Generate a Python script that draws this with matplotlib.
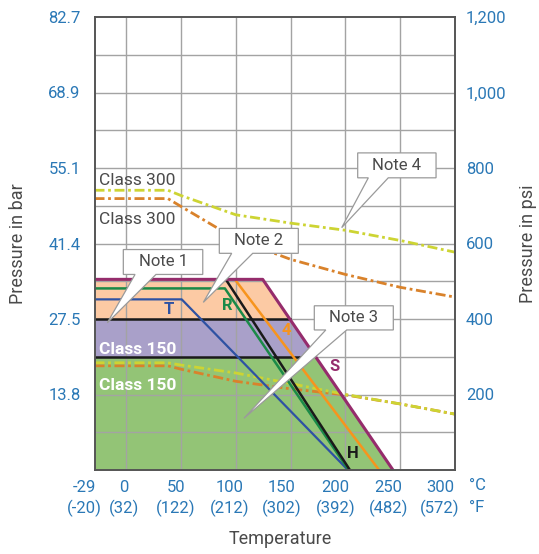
import numpy as np
import matplotlib
matplotlib.use('Agg')
import matplotlib.pyplot as plt
from matplotlib.patches import Polygon
from matplotlib.transforms import ScaledTranslation

plt.rcParams['font.family'] = ['Roboto', 'DejaVu Sans']

# temperature axis (deg C) with deg F in brackets
temp_ticks = [-29, 0, 50, 100, 150, 200, 250, 300]
temp_labels = ['-29\n(-20)', '0\n(32)', '50\n(122)', '100\n(212)', '150\n(302)',
               '200\n(392)', '250\n(482)', '300\n(572)']
# pressure axis, plotted in psi
psi_ticks = [200, 400, 600, 800, 1000, 1200]
psi_labels = ['200', '400', '600', '800', '1,000', '1,200']
bar_labels = ['13.8', '27.5', '41.4', '55.1', '68.9', '82.7']

# seat rating curves (temp C, psi)
S_t = [-29, 124.5, 243.4]
S_p = [505, 505, 0]
R_t = [-29, 90, 202.9]
R_p = [481, 481, 0]
T_t = [-29, 50.6, 202.3]
T_p = [452, 452, 0]
H_t = [91.7, 204.1]
H_p = [501, 0]
F_t = [100.1, 230.7]
F_p = [501, 0]

# body ratings, dash-dot
cls_t = [-29, 38, 50, 100, 150, 200, 250, 300]
c300_a = [741, 741, 727, 676, 654, 635, 608, 577]
c300_b = [719, 719, 698, 612, 558, 518, 484, 458]
c150_a = [284, 284, 278, 257, 229, 200, 175, 148]
c150_b = [276, 276, 267, 235, 215, 199, 175, 148]

# class 150 limits (psi)
lim_low = 300
lim_high = 400

blue = '#2a78b6'
grey_txt = '#4a4a4a'

fig = plt.figure(figsize=(5.39, 5.54), dpi=100)
ax = fig.add_axes([94.5 / 539, 1 - 470 / 554, 360.5 / 539, 453 / 554])
ax.set_xlim(-29, 300)
ax.set_ylim(0, 1200)


def s_edge(p):
    # sloped part of the S line, as temperature for a given pressure
    return np.interp(p, [S_p[2], S_p[1]], [S_t[2], S_t[1]])


for lo, hi, col in [(0, lim_low, '#93c476'), (lim_low, lim_high, '#a9a0c9'),
                    (lim_high, S_p[0], '#fccaa4')]:
    pp = np.array([lo, hi])
    ax.fill_betweenx(pp, -29, s_edge(pp), color=col, lw=0, zorder=1)

for x in range(0, 301, 50):
    ax.axvline(x, color='#a3a3a3', lw=1, zorder=1.5)
for y in range(100, 1200, 100):
    ax.axhline(y, color='#a3a3a3', lw=1, zorder=1.5)

dd = (0, (3.6, 1.3, 1, 1.3))
ax.plot(cls_t, c150_b, color='#d9822b', lw=2, ls=dd, zorder=2)
ax.plot(cls_t, c150_a, color='#cdd433', lw=2, ls=dd, zorder=2.1)
ax.plot(cls_t, c300_b, color='#d9822b', lw=2, ls=dd, zorder=2)
ax.plot(cls_t, c300_a, color='#cdd433', lw=2, ls=dd, zorder=2)

ax.plot([-29, s_edge(lim_high)], [lim_high, lim_high], color='#1a1a1a', lw=1.8, zorder=3)
ax.plot([-29, 161], [lim_low, lim_low], color='#1a1a1a', lw=1.8, zorder=3)

ax.plot(T_t, T_p, color='#2e52a3', lw=1.6, zorder=4)
ax.plot(R_t, R_p, color='#1b8a48', lw=1.8, zorder=4)
ax.plot(F_t, F_p, color='#f7941d', lw=1.8, zorder=4)
ax.plot(H_t, H_p, color='#1a1a1a', lw=1.8, zorder=4)
ax.plot(S_t, S_p, color='#952c6c', lw=2.2, zorder=4)

lbl = dict(fontsize=12, fontweight='bold', ha='center', va='center', zorder=6)
ax.text(39.2, 426, 'T', color='#2e52a3', **lbl)
ax.text(92.6, 437, 'R', color='#1b8a48', **lbl)
ax.text(146.4, 369, '4', color='#f7941d', **lbl)
ax.text(189.6, 275, 'S', color='#952c6c', **lbl)
ax.text(206.6, 44, 'H', color='#1a1a1a', **lbl)

ax.text(-24.6, 318, 'Class 150', color='white', fontsize=12.5, fontweight='bold',
        va='center', zorder=6)
ax.text(-24.6, 225, 'Class 150', color='white', fontsize=12.5, fontweight='bold',
        va='center', zorder=6)
ax.text(-24.6, 768, 'Class 300', color=grey_txt, fontsize=12.5, va='center', zorder=6)
ax.text(-24.6, 664, 'Class 300', color=grey_txt, fontsize=12.5, va='center', zorder=6)

# callouts: box x0, x1, y_bottom, y_top, pointer base x0, x1, tip
notes = [
    ('Note 1', -2.7, 69.8, 518, 584, 8.0, 27.1, (-17.3, 390)),
    ('Note 2', 84.9, 157.0, 574, 640, 96.2, 115.4, (70.3, 444)),
    ('Note 3', 171.6, 243.7, 371, 435, 182.1, 201.2, (107.4, 137)),
    ('Note 4', 211.2, 282.7, 774, 840, 220.9, 239.1, (196.6, 642)),
]
for name, x0, x1, yb, yt, b0, b1, tip in notes:
    verts = [(x0, yt), (x1, yt), (x1, yb), (b1, yb), tip, (b0, yb), (x0, yb)]
    ax.add_patch(Polygon(verts, closed=True, fc='white', ec='#9a9a9a', lw=0.9, zorder=7))
    ax.text((x0 + x1) / 2, (yb + yt) / 2, name, fontsize=12, color=grey_txt,
            ha='center', va='center', zorder=8)

for sp in ax.spines.values():
    sp.set_color('#555555')
    sp.set_linewidth(1.4)
    sp.set_zorder(9)

ax.set_xticks(temp_ticks, temp_labels)
ax.set_yticks(psi_ticks, bar_labels)
ax.tick_params(length=0, labelsize=12, colors=blue, pad=7)
ax.tick_params(axis='y', pad=10)
# the printed labels sit a little left of their grid lines
nudge_px = [-10, -2, -5, -6, -9, -10, -12, -15]
for t, dx in zip(ax.get_xticklabels(), nudge_px):
    t.set_linespacing(1.35)
    t.set_transform(t.get_transform() + ScaledTranslation(dx / 100, 0, fig.dpi_scale_trans))

ax2 = ax.twinx()
ax2.set_ylim(0, 1200)
ax2.set_yticks(psi_ticks, psi_labels)
ax2.tick_params(length=0, labelsize=12, colors=blue, pad=8)
for sp in ax2.spines.values():
    sp.set_visible(False)

fig.text(477 / 539, 1 - 485 / 554, '°C', fontsize=12, color=blue, ha='center', va='center')
fig.text(477 / 539, 1 - 507 / 554, '°F', fontsize=12, color=blue, ha='center', va='center')

fig.text(18 / 539, 1 - 243.5 / 554, 'Pressure in bar', rotation=90, fontsize=13,
         color=grey_txt, ha='center', va='center')
fig.text(528 / 539, 1 - 243.5 / 554, 'Pressure in psi', rotation=90, fontsize=13,
         color=grey_txt, ha='center', va='center')
fig.text(280 / 539, 1 - 539 / 554, 'Temperature', fontsize=13, color=grey_txt,
         ha='center', va='center')

fig.savefig('out.png', dpi=100)
